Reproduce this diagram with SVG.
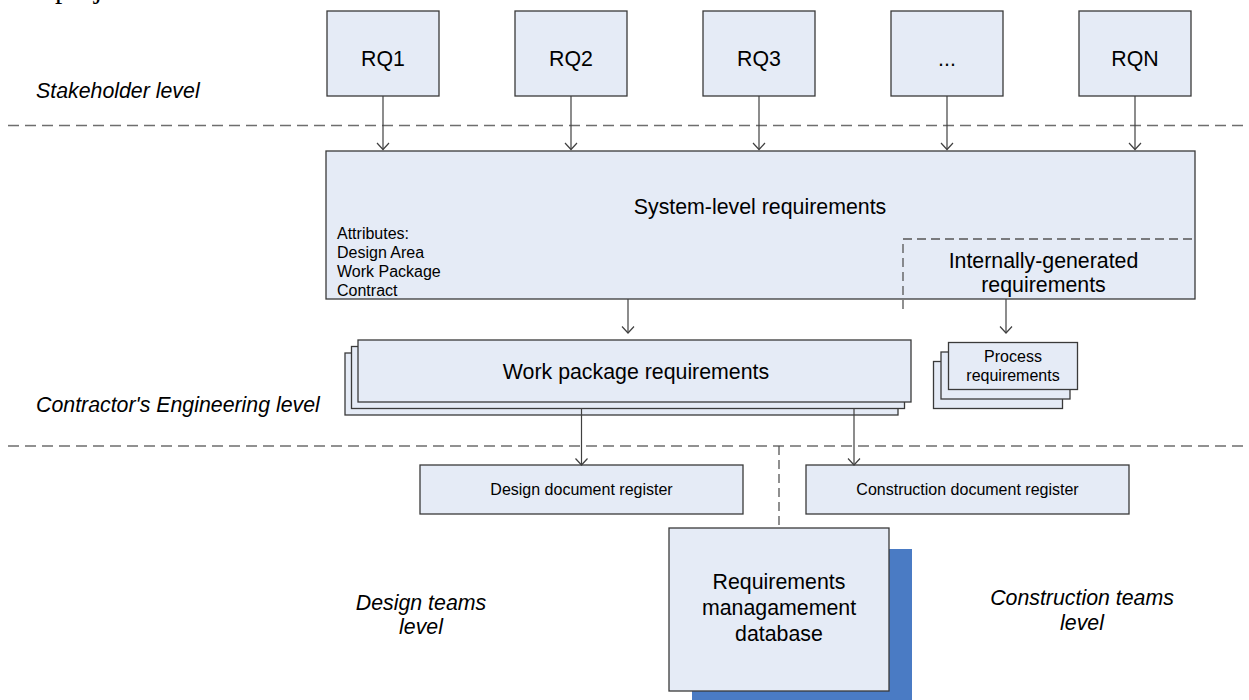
<svg xmlns="http://www.w3.org/2000/svg" width="1249" height="700" viewBox="0 0 1249 700">
<style>
.box{fill:#e5ebf6;stroke:#3a3a3a;stroke-width:1.3}
.t{font-family:"Liberation Sans",Arial,sans-serif;fill:#000}
.big{font-size:21.33px}
.small{font-size:16px}
.lvl{font-family:"Liberation Sans",Arial,sans-serif;font-size:21.33px;font-style:italic;fill:#000}
.conn{stroke:#404040;stroke-width:1.2;fill:none;marker-end:url(#arr)}
.dash{stroke:#6e6e6e;stroke-width:1.5;fill:none;stroke-dasharray:11 6}
.dash2{stroke:#555;stroke-width:1.3;fill:none;stroke-dasharray:9 5}
</style>
<defs>
<marker id="arr" viewBox="-9 -8 11 16" refX="0" refY="0" markerWidth="11" markerHeight="16" markerUnits="userSpaceOnUse" orient="auto">
<path d="M-6.5,-6 L0,0 L-6.5,6" fill="none" stroke="#404040" stroke-width="1.2"/>
</marker>
</defs>
<rect width="1249" height="700" fill="#fff"/>

<text x="55" y="-2" font-family="Liberation Serif,serif" font-size="29.3px" fill="#000">project</text>

<g id="separators">
<line class="dash" x1="8" y1="125.5" x2="1249" y2="125.5"/>
<line class="dash" x1="8" y1="446" x2="1249" y2="446"/>
</g>

<g id="level-labels">
<text class="lvl" x="36" y="98">Stakeholder level</text>
<text class="lvl" x="36" y="412">Contractor's Engineering level</text>
<text class="lvl" x="421" y="610" text-anchor="middle">Design teams</text>
<text class="lvl" x="421" y="634" text-anchor="middle">level</text>
<text class="lvl" x="1082" y="605" text-anchor="middle">Construction teams</text>
<text class="lvl" x="1082" y="630" text-anchor="middle">level</text>
</g>

<g id="rq1"><rect class="box" x="327" y="11" width="112" height="85"/><text class="t big" x="383" y="66" text-anchor="middle">RQ1</text></g>
<g id="rq2"><rect class="box" x="515" y="11" width="112" height="85"/><text class="t big" x="571" y="66" text-anchor="middle">RQ2</text></g>
<g id="rq3"><rect class="box" x="703" y="11" width="112" height="85"/><text class="t big" x="759" y="66" text-anchor="middle">RQ3</text></g>
<g id="rq-more"><rect class="box" x="891" y="11" width="112" height="85"/><text class="t big" x="947" y="66" text-anchor="middle">...</text></g>
<g id="rqn"><rect class="box" x="1079" y="11" width="112" height="85"/><text class="t big" x="1135" y="66" text-anchor="middle">RQN</text></g>

<g id="system-level">
<rect class="box" x="326" y="151" width="869" height="148"/>
<text class="t big" x="760" y="214" text-anchor="middle">System-level requirements</text>
<text class="t small" x="337" y="239">Attributes:</text>
<text class="t small" x="337" y="258">Design Area</text>
<text class="t small" x="337" y="277">Work Package</text>
<text class="t small" x="337" y="296">Contract</text>
</g>

<g id="internally-generated">
<path class="dash2" d="M903,309 L903,239 L1195,239"/>
<text class="t big" x="1043.5" y="268" text-anchor="middle">Internally-generated</text>
<text class="t big" x="1043.5" y="292" text-anchor="middle">requirements</text>
</g>

<g id="work-package">
<rect class="box" x="345" y="353" width="553" height="62"/>
<rect class="box" x="351.5" y="346.5" width="553" height="62"/>
<rect class="box" x="358" y="340" width="553" height="62"/>
<text class="t big" x="636" y="379" text-anchor="middle">Work package requirements</text>
</g>

<g id="process">
<rect class="box" x="933.5" y="361.5" width="129" height="47"/>
<rect class="box" x="941" y="352" width="129" height="47"/>
<rect class="box" x="948.5" y="342.5" width="129" height="47"/>
<text class="t small" x="1013" y="362" text-anchor="middle">Process</text>
<text class="t small" x="1013" y="380.5" text-anchor="middle">requirements</text>
</g>

<g id="design-register">
<rect class="box" x="420" y="465" width="323" height="49"/>
<text class="t small" x="581.5" y="495" text-anchor="middle">Design document register</text>
</g>

<g id="construction-register">
<rect class="box" x="806" y="465" width="323" height="49"/>
<text class="t small" x="967.5" y="495" text-anchor="middle">Construction document register</text>
</g>

<g id="rm-database">
<rect x="692" y="549" width="220" height="163" fill="#4a7bc4"/>
<rect class="box" x="669" y="528" width="220" height="163"/>
<text class="t big" x="779" y="589" text-anchor="middle">Requirements</text>
<text class="t big" x="779" y="615" text-anchor="middle">managamement</text>
<text class="t big" x="779" y="641" text-anchor="middle">database</text>
</g>

<g id="connectors">
<line class="conn" x1="383" y1="96" x2="383" y2="149.5"/>
<line class="conn" x1="571" y1="96" x2="571" y2="149.5"/>
<line class="conn" x1="759" y1="96" x2="759" y2="149.5"/>
<line class="conn" x1="947" y1="96" x2="947" y2="149.5"/>
<line class="conn" x1="1135" y1="96" x2="1135" y2="149.5"/>
<line class="conn" x1="628" y1="299" x2="628" y2="333"/>
<line class="conn" x1="1006" y1="299" x2="1006" y2="333"/>
<line class="conn" x1="581.5" y1="408" x2="581.5" y2="465"/>
<line class="conn" x1="854" y1="408" x2="854" y2="465"/>
<line class="dash2" x1="779" y1="446" x2="779" y2="528"/>
</g>
</svg>
